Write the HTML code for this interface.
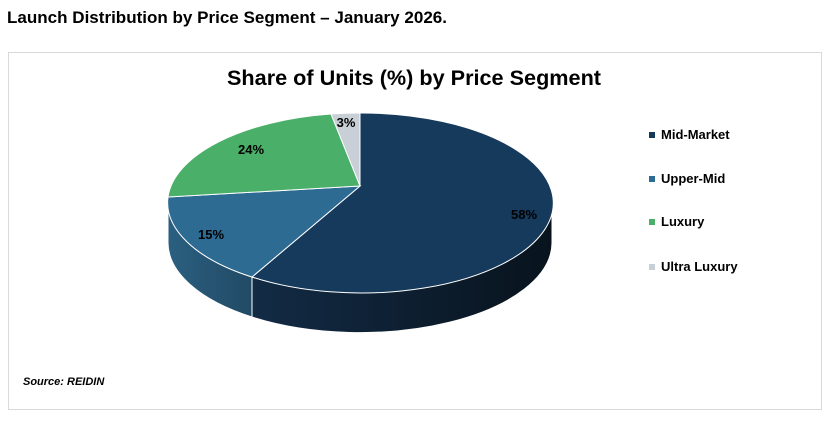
<!DOCTYPE html>
<html><head><style>
body{margin:0;width:832px;height:418px;background:#fff;overflow:hidden;font-family:"Liberation Sans",sans-serif;}
</style></head><body>
<svg width="832" height="418" xmlns="http://www.w3.org/2000/svg" font-family="Liberation Sans, sans-serif">
<defs>
<linearGradient id="gm" x1="0" x2="1" y1="0" y2="0"><stop offset="0" stop-color="#132b45"/><stop offset="1" stop-color="#08131d"/></linearGradient>
<linearGradient id="gu" x1="0" x2="1" y1="0" y2="0"><stop offset="0" stop-color="#2b5f80"/><stop offset="1" stop-color="#214a65"/></linearGradient>
</defs>
<text x="7" y="23" font-size="16.5" font-weight="bold" fill="#000" textLength="440" lengthAdjust="spacingAndGlyphs">Launch Distribution by Price Segment – January 2026.</text>
<rect x="8.5" y="52.5" width="813" height="357" fill="#fff" stroke="#d9d9d9"/>
<text x="414" y="85" font-size="21.5" font-weight="bold" text-anchor="middle" fill="#000" textLength="374" lengthAdjust="spacingAndGlyphs">Share of Units (%) by Price Segment</text>
<path d="M552,203 A192,90 0 0 1 252,277 L252,317 A192,90 0 0 0 552,243 Z" fill="url(#gm)" stroke="#fff" stroke-width="1"/>
<path d="M252,277 A192,90 0 0 1 168,203 L168,243 A192,90 0 0 0 252,317 Z" fill="url(#gu)" stroke="#fff" stroke-width="1"/>
<path d="M360,186 L360,113 A192,90 0 1 1 252,277 Z" fill="#163a5c" stroke="#fff" stroke-width="1"/>
<path d="M360,186 L252,277 A192,90 0 0 1 168,197 Z" fill="#2d6b93" stroke="#fff" stroke-width="1"/>
<path d="M360,186 L168,197 A192,90 0 0 1 331,114 Z" fill="#4aaf68" stroke="#fff" stroke-width="1"/>
<path d="M360,186 L331,114 A192,90 0 0 1 360,113 Z" fill="#c8cfd6" stroke="#fff" stroke-width="1"/>
<g font-size="13" font-weight="bold" fill="#000" text-anchor="middle">
<text x="524" y="219">58%</text>
<text x="211" y="239">15%</text>
<text x="251" y="154">24%</text>
<text x="346" y="127">3%</text>
</g>
<g font-size="13" font-weight="bold" fill="#000">
<rect x="649" y="132" width="6" height="6" fill="#163a5c"/><text x="661" y="139">Mid-Market</text>
<rect x="649" y="176" width="6" height="6" fill="#2d6b93"/><text x="661" y="183">Upper-Mid</text>
<rect x="649" y="219" width="6" height="6" fill="#4aaf68"/><text x="661" y="226">Luxury</text>
<rect x="649" y="264" width="6" height="6" fill="#c8cfd6"/><text x="661" y="271">Ultra Luxury</text>
</g>
<text x="23" y="385" font-size="11" font-weight="bold" font-style="italic" fill="#000">Source: REIDIN</text>
</svg>
</body></html>
